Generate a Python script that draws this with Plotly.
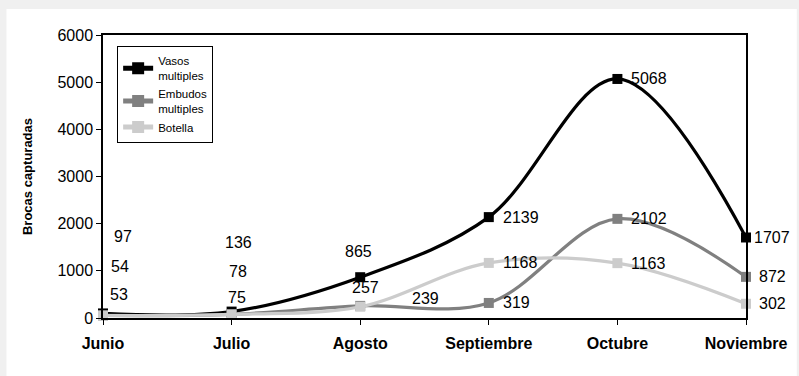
import plotly.graph_objects as go

# Monthly captures per trap type
meses = ["Junio", "Julio", "Agosto", "Septiembre", "Octubre", "Noviembre"]
vasos = [97, 136, 865, 2139, 5068, 1707]
embudos = [54, 78, 257, 319, 2102, 872]
botella = [53, 75, 239, 1168, 1163, 302]

series = [
    ("Vasos<br>multiples", vasos, "#000000"),
    ("Embudos<br>multiples", embudos, "#808080"),
    ("Botella", botella, "#cccccc"),
]

FONT = "Arial, Liberation Sans, sans-serif"

fig = go.Figure()
for name, vals, color in series:
    fig.add_trace(go.Scatter(
        x=meses, y=vals, name=name, mode="lines+markers",
        line=dict(color=color, width=3.2, shape="spline", smoothing=1.0),
        marker=dict(symbol="square", size=10, color=color),
        cliponaxis=False,
    ))

# value labels: per series, per month (xshift, yshift, anchor)
label_offsets = {
    0: [(20, 77, "center"), (7, 69, "center"), (-2, 26, "center"),
        (12, 0, "left"), (12, 0, "left"), (6, 0, "left")],
    1: [(17, 49, "center"), (6, 43, "center"), (5, 18, "center"),
        (12, 0, "left"), (12, 0, "left"), (11, 0, "left")],
    2: [(16, 21, "center"), (5, 17, "center"), (65, 8, "center"),
        (12, 0, "left"), (12, 0, "left"), (11, 0, "left")],
}
for si, (_, vals, _) in enumerate(series):
    for mi, v in enumerate(vals):
        dx, dy, anchor = label_offsets[si][mi]
        fig.add_annotation(
            x=meses[mi], y=v, text=str(v), showarrow=False,
            xshift=dx, yshift=dy, xanchor=anchor, yanchor="middle",
            font=dict(family=FONT, size=16, color="#000000"),
        )

# light gray frame on the top and left edge of the page
fig.add_shape(type="rect", xref="paper", yref="paper",
              x0=(6 - 103) / 646, x1=(800 - 103) / 646,
              y0=(318 - 377) / 283, y1=(318 - 9) / 283,
              fillcolor="white", line_width=0, layer="below")

fig.update_layout(
    width=799, height=376,
    margin=dict(l=103, r=50, t=35, b=58),
    paper_bgcolor="#f0f0f0", plot_bgcolor="white",
    font=dict(family=FONT, color="#000000"),
    showlegend=True,
    legend=dict(
        x=0.022, y=0.962, xanchor="left", yanchor="top",
        bgcolor="white", bordercolor="#000000", borderwidth=1,
        font=dict(family=FONT, size=11.5, color="#000000"),
        tracegroupgap=0, itemsizing="constant",
    ),
    xaxis=dict(
        type="category", range=[0, 5], showgrid=False,
        showline=True, linecolor="#000000", linewidth=1.5, mirror=True,
        ticks="outside", ticklen=5, tickcolor="#000000",
        tickfont=dict(family=FONT, size=16, weight="bold"),
        ticklabelstandoff=5,
        zeroline=False,
    ),
    yaxis=dict(
        range=[0, 6000], dtick=1000, showgrid=False,
        showline=True, linecolor="#000000", linewidth=1.5, mirror=True,
        ticks="outside", ticklen=5, tickcolor="#000000",
        tickfont=dict(family=FONT, size=16),
        title=dict(text="Brocas capturadas",
                   font=dict(family=FONT, size=13, weight="bold"),
                   standoff=22),
        zeroline=False,
    ),
)

fig.write_html("out.html")
